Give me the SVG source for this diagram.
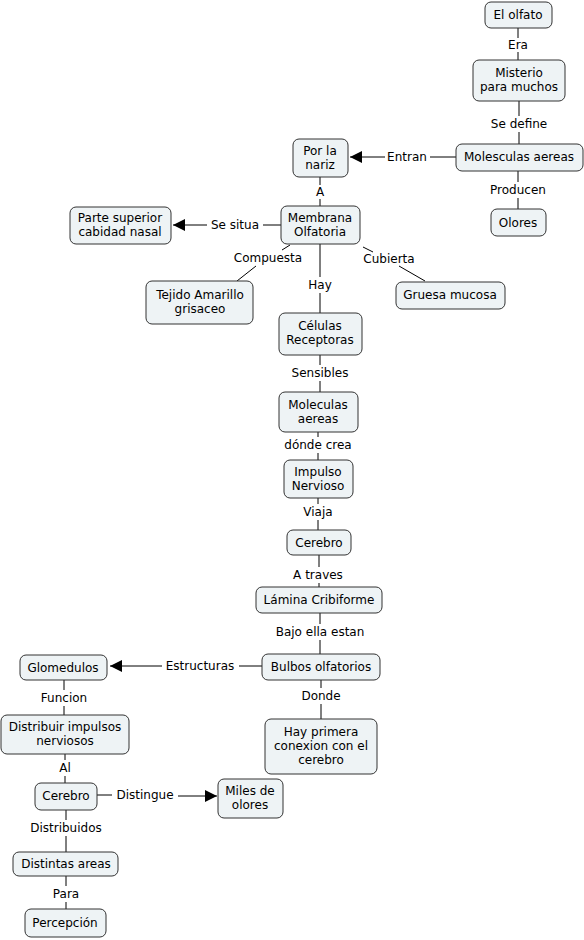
<svg xmlns="http://www.w3.org/2000/svg" width="584" height="940" viewBox="0 0 584 940">
<style>
.n rect{fill:#eef3f5;stroke:#333;stroke-width:1}
text{font-family:"DejaVu Sans",Verdana,sans-serif;font-size:12px;fill:#000;text-anchor:middle}
.c line,.c polyline{stroke:#000;stroke-width:1;fill:none}
</style>
<defs>
<marker id="ar" viewBox="0 0 10 10" refX="10" refY="5" markerWidth="12" markerHeight="12" markerUnits="userSpaceOnUse" orient="auto">
<path d="M0,0 L10,5 L0,10 z" fill="#000"/>
</marker>
</defs>
<rect width="584" height="940" fill="#fff"/>
<g class="c">
<line x1="518" y1="28" x2="518" y2="38"/><line x1="518" y1="52" x2="518" y2="60"/>
<line x1="519" y1="101" x2="519" y2="116"/><line x1="519" y1="132" x2="519" y2="144"/>
<line x1="456" y1="157" x2="430" y2="157"/><line x1="385" y1="157" x2="350" y2="157" marker-end="url(#ar)"/>
<line x1="518" y1="171" x2="518" y2="182"/><line x1="518" y1="198" x2="518" y2="209"/>
<line x1="320" y1="177" x2="320" y2="185"/><line x1="320" y1="199" x2="320" y2="206"/>
<line x1="281" y1="225" x2="263" y2="225"/><line x1="207" y1="225" x2="173" y2="225" marker-end="url(#ar)"/>
<line x1="290" y1="245" x2="282" y2="250"/><line x1="256" y1="266" x2="237" y2="281"/>
<line x1="363" y1="247" x2="373" y2="252"/><line x1="399" y1="266" x2="425" y2="281"/>
<line x1="320" y1="244" x2="320" y2="277"/><line x1="320" y1="293" x2="320" y2="313"/>
<line x1="320" y1="355" x2="320" y2="365"/><line x1="320" y1="381" x2="320" y2="392"/>
<line x1="318" y1="432" x2="318" y2="437"/><line x1="318" y1="453" x2="318" y2="460"/>
<line x1="318" y1="498" x2="318" y2="504"/><line x1="318" y1="520" x2="318" y2="530"/>
<line x1="319" y1="555" x2="319" y2="567"/><line x1="319" y1="583" x2="319" y2="587"/>
<line x1="320" y1="613" x2="320" y2="624"/><line x1="320" y1="640" x2="320" y2="654"/>
<line x1="262" y1="666" x2="239" y2="666"/><line x1="162" y1="666" x2="110" y2="666" marker-end="url(#ar)"/>
<line x1="321" y1="680" x2="321" y2="688"/><line x1="321" y1="704" x2="321" y2="719"/>
<line x1="64" y1="680" x2="64" y2="690"/><line x1="64" y1="706" x2="64" y2="715"/>
<line x1="65" y1="754" x2="65" y2="760"/><line x1="65" y1="776" x2="65" y2="783"/>
<line x1="97" y1="795" x2="112" y2="795"/><line x1="178" y1="796" x2="217" y2="796" marker-end="url(#ar)"/>
<line x1="66" y1="810" x2="66" y2="820"/><line x1="66" y1="836" x2="66" y2="852"/>
<line x1="66" y1="876" x2="66" y2="886"/><line x1="66" y1="902" x2="66" y2="909"/>
</g>
<g class="c-labels">
<text x="518" y="49">Era</text>
<text x="519" y="128">Se define</text>
<text x="407" y="161">Entran</text>
<text x="518" y="194">Producen</text>
<text x="320" y="196">A</text>
<text x="235" y="229">Se situa</text>
<text x="268" y="262">Compuesta</text>
<text x="389" y="263">Cubierta</text>
<text x="320" y="289">Hay</text>
<text x="320" y="377">Sensibles</text>
<text x="318" y="449">dónde crea</text>
<text x="318" y="516">Viaja</text>
<text x="318" y="579">A traves</text>
<text x="320" y="636">Bajo ella estan</text>
<text x="200" y="670">Estructuras</text>
<text x="321" y="700">Donde</text>
<text x="64" y="702">Funcion</text>
<text x="65" y="772">Al</text>
<text x="145" y="799">Distingue</text>
<text x="66" y="832">Distribuidos</text>
<text x="66" y="898">Para</text>
</g>
<g id="n1" class="n"><rect x="485" y="2" width="67" height="26" rx="6"/><text x="518" y="19">El olfato</text></g>
<g id="n2" class="n"><rect x="473" y="60" width="92" height="41" rx="6"/><text x="519" y="77">Misterio</text><text x="519" y="91">para muchos</text></g>
<g id="n3" class="n"><rect x="456" y="144" width="127" height="27" rx="6"/><text x="519" y="161">Molesculas aereas</text></g>
<g id="n4" class="n"><rect x="491" y="209" width="55" height="27" rx="6"/><text x="518" y="227">Olores</text></g>
<g id="n5" class="n"><rect x="293" y="139" width="55" height="38" rx="6"/><text x="320" y="155">Por la</text><text x="320" y="169">nariz</text></g>
<g id="n6" class="n"><rect x="281" y="206" width="79" height="38" rx="6"/><text x="320" y="222">Membrana</text><text x="320" y="236">Olfatoria</text></g>
<g id="n7" class="n"><rect x="70" y="207" width="101" height="37" rx="6"/><text x="120" y="222">Parte superior</text><text x="120" y="236">cabidad nasal</text></g>
<g id="n8" class="n"><rect x="146" y="281" width="107" height="43" rx="6"/><text x="200" y="299">Tejido Amarillo</text><text x="200" y="313">grisaceo</text></g>
<g id="n9" class="n"><rect x="396" y="282" width="109" height="27" rx="6"/><text x="450" y="299">Gruesa mucosa</text></g>
<g id="n10" class="n"><rect x="279" y="313" width="83" height="42" rx="6"/><text x="320" y="330">Células</text><text x="320" y="344">Receptoras</text></g>
<g id="n11" class="n"><rect x="279" y="392" width="79" height="40" rx="6"/><text x="318" y="409">Moleculas</text><text x="318" y="423">aereas</text></g>
<g id="n12" class="n"><rect x="284" y="460" width="69" height="38" rx="6"/><text x="318" y="476">Impulso</text><text x="318" y="490">Nervioso</text></g>
<g id="n13" class="n"><rect x="287" y="530" width="64" height="25" rx="6"/><text x="319" y="547">Cerebro</text></g>
<g id="n14" class="n"><rect x="256" y="587" width="126" height="26" rx="6"/><text x="319" y="604">Lámina Cribiforme</text></g>
<g id="n15" class="n"><rect x="262" y="654" width="118" height="26" rx="6"/><text x="321" y="671">Bulbos olfatorios</text></g>
<g id="n16" class="n"><rect x="20" y="655" width="87" height="25" rx="6"/><text x="63" y="672">Glomedulos</text></g>
<g id="n17" class="n"><rect x="265" y="719" width="112" height="55" rx="6"/><text x="321" y="736">Hay primera</text><text x="321" y="750">conexion con el</text><text x="321" y="764">cerebro</text></g>
<g id="n18" class="n"><rect x="1" y="715" width="128" height="39" rx="6"/><text x="65" y="731">Distribuir impulsos</text><text x="65" y="745">nerviosos</text></g>
<g id="n19" class="n"><rect x="35" y="783" width="62" height="27" rx="6"/><text x="66" y="800">Cerebro</text></g>
<g id="n20" class="n"><rect x="218" y="779" width="65" height="39" rx="6"/><text x="250" y="795">Miles de</text><text x="250" y="809">olores</text></g>
<g id="n21" class="n"><rect x="13" y="852" width="105" height="24" rx="6"/><text x="66" y="868">Distintas areas</text></g>
<g id="n22" class="n"><rect x="25" y="909" width="81" height="28" rx="6"/><text x="65" y="927">Percepción</text></g>
</svg>
